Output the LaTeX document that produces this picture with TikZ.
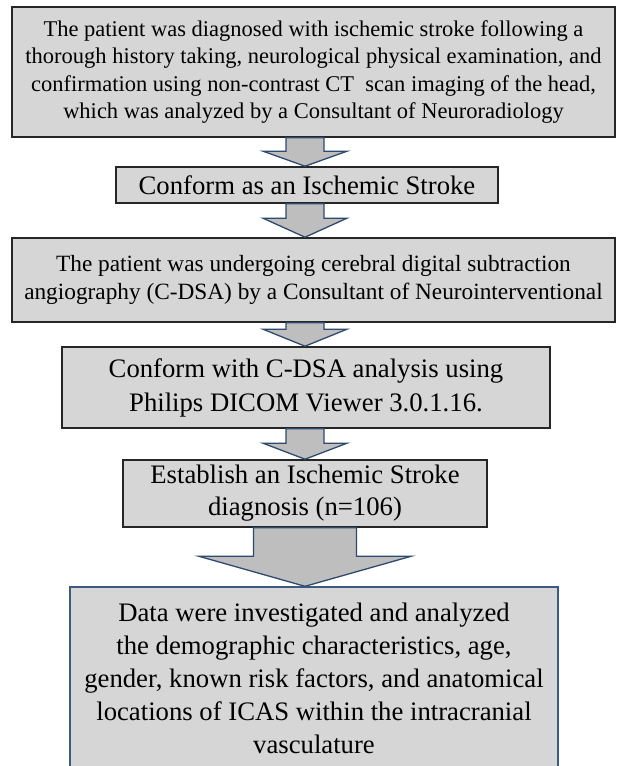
\documentclass[tikz,border=0pt]{standalone}
\usepackage{fontspec}
\setmainfont{Liberation Serif}
\usetikzlibrary{calc}
\definecolor{boxfill}{HTML}{D6D6D6}
\definecolor{arrfill}{HTML}{BEBEBE}
\definecolor{arredge}{HTML}{2E4A6F}
\definecolor{boxedge}{HTML}{262626}
\definecolor{lastedge}{HTML}{3C5A82}
\newcommand\flowarr[5]{%
  \draw[flowarrow]
    ($(ax|-#1.south)+(-#3,0)$) -- ($(ax|-#1.south)+(#3,0)$)
    -- ($(ax|-#2.north)+(#3,-#5)$) -- ($(ax|-#2.north)+(#4,-#5)$)
    -- (ax|-#2.north)
    -- ($(ax|-#2.north)+(-#4,-#5)$) -- ($(ax|-#2.north)+(-#3,-#5)$) -- cycle;}
\begin{document}
\begin{tikzpicture}[x=1pt,y=-1pt,
  flowbox/.style={draw=boxedge,line width=1.6pt,fill=boxfill,inner sep=0pt,align=center,text=black},
  flowarrow/.style={draw=arredge,line width=1.3pt,fill=arrfill,line join=miter}]
\clip (0,0) rectangle (618,766);
\fill[white] (0,0) rectangle (618,766);
\coordinate (ax) at (305,0);
\node[flowbox,minimum width=603pt,minimum height=130pt,font=\fontsize{22.5}{27.5}\selectfont] (b1) at (313.5,72)
  {The patient was diagnosed with ischemic stroke following a\\ thorough history taking, neurological physical examination, and\\ confirmation using non-contrast CT\ \ scan imaging of the head,\\ which was analyzed by a Consultant of Neuroradiology};
\node[flowbox,minimum width=382pt,minimum height=36pt,font=\fontsize{26.7}{32}\selectfont] (b2) at (307,185)
  {Conform as an Ischemic Stroke};
\node[flowbox,minimum width=603pt,minimum height=84pt,font=\fontsize{23.3}{28}\selectfont] (b3) at (313.5,280)
  {The patient was undergoing cerebral digital subtraction\\ angiography (C-DSA) by a Consultant of Neurointerventional};
\node[flowbox,minimum width=488pt,minimum height=81pt,font=\fontsize{26.7}{34}\selectfont] (b4) at (306,387.5)
  {Conform with C-DSA analysis using\\ Philips DICOM Viewer 3.0.1.16.};
\node[flowbox,minimum width=364pt,minimum height=67pt,font=\fontsize{26.7}{32}\selectfont] (b5) at (305,493.5)
  {Establish an Ischemic Stroke\\ diagnosis (n=106)};
\node[flowbox,draw=lastedge,line width=1.4pt,minimum width=488pt,minimum height=182pt,font=\fontsize{26.7}{33}\selectfont] (b6) at (314,678)
  {Data were investigated and analyzed\\ the demographic characteristics, age,\\ gender, known risk factors, and anatomical\\ locations of ICAS within the intracranial\\ vasculature};
\flowarr{b1}{b2}{19}{42}{15}
\flowarr{b2}{b3}{19}{42}{19}
\flowarr{b3}{b4}{19}{42}{17}
\flowarr{b4}{b5}{19}{42}{16}
\flowarr{b5}{b6}{51.5}{106}{30}
\end{tikzpicture}
\end{document}
